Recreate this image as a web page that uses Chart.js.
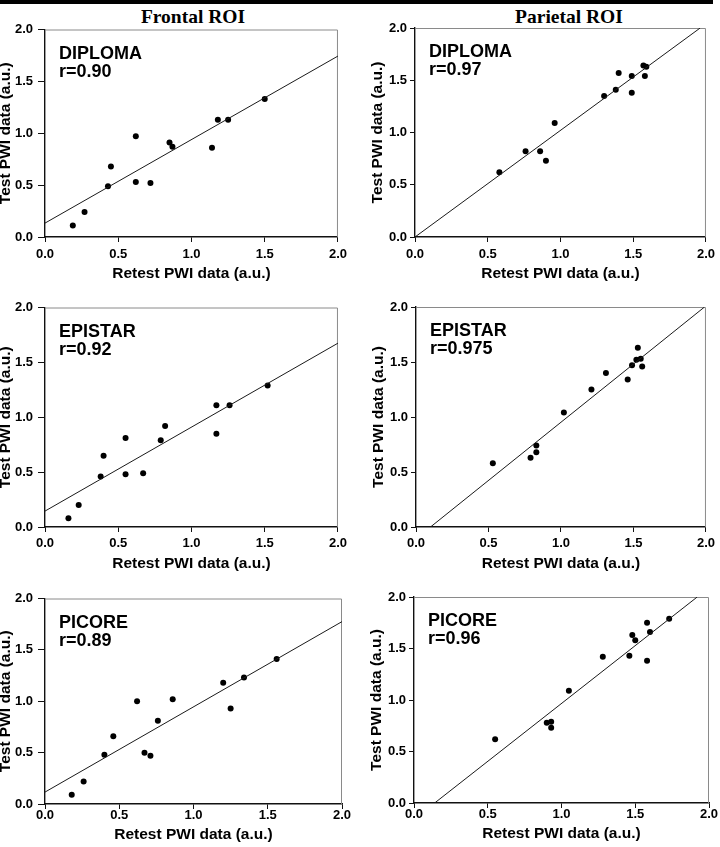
<!DOCTYPE html>
<html>
<head>
<meta charset="utf-8">
<script src="https://cdn.jsdelivr.net/npm/chart.js@4.4.1/dist/chart.umd.min.js"></script>
<style>
  body { margin: 0; background: #fff; }
  #page { position: relative; width: 720px; height: 847px; overflow: hidden; background: #fff; }
  .bar { position: absolute; left: 0; top: 0; width: 713px; height: 4px; background: #000; }
  .head { position: absolute; top: 6px; width: 200px; text-align: center; line-height: 20px;
          font: bold 19.5px "Liberation Serif", "Times New Roman", serif; color: #000; }
  .panel { position: absolute; }
</style>
</head>
<body>
<div id="page">
  <div class="bar"></div>
  <div class="head" style="left:93px">Frontal ROI</div>
  <div class="head" style="left:469px">Parietal ROI</div>
</div>
<script>
// tick values / labels shared by every panel
const tickLabels = ['0.0', '0.5', '1.0', '1.5', '2.0'];
const xTitle = 'Retest PWI data (a.u.)';
const yTitle = 'Test PWI data (a.u.)';

// Frontal ROI
const frontalDiplomaX = [0.19, 0.27, 0.43, 0.45, 0.62, 0.62, 0.72, 0.85, 0.87, 1.14, 1.18, 1.25, 1.50];
const frontalDiplomaY = [0.11, 0.24, 0.49, 0.68, 0.97, 0.53, 0.52, 0.91, 0.87, 0.86, 1.13, 1.13, 1.33];
const frontalDiplomaFit = [[0, 0.134], [2, 1.744]];

const frontalEpistarX = [0.16, 0.23, 0.38, 0.40, 0.55, 0.55, 0.67, 0.79, 0.82, 1.17, 1.17, 1.26, 1.52];
const frontalEpistarY = [0.08, 0.20, 0.46, 0.65, 0.81, 0.48, 0.49, 0.79, 0.92, 1.11, 0.85, 1.11, 1.29];
const frontalEpistarFit = [[0, 0.145], [2, 1.675]];

const frontalPicoreX = [0.18, 0.26, 0.40, 0.46, 0.62, 0.67, 0.71, 0.76, 0.86, 1.20, 1.25, 1.34, 1.56];
const frontalPicoreY = [0.09, 0.22, 0.48, 0.66, 1.00, 0.50, 0.47, 0.81, 1.02, 1.18, 0.93, 1.23, 1.41];
const frontalPicoreFit = [[0, 0.116], [2, 1.775]];

// Parietal ROI
const parietalDiplomaX = [0.58, 0.76, 0.86, 0.90, 0.96, 1.30, 1.38, 1.40, 1.49, 1.49, 1.57, 1.59, 1.58];
const parietalDiplomaY = [0.62, 0.82, 0.82, 0.73, 1.09, 1.35, 1.41, 1.57, 1.54, 1.38, 1.64, 1.63, 1.54];
const parietalDiplomaFit = [[0, 0], [1.96, 2]];

const parietalEpistarX = [0.53, 0.79, 0.83, 0.83, 1.02, 1.21, 1.31, 1.46, 1.49, 1.52, 1.53, 1.55, 1.56];
const parietalEpistarY = [0.58, 0.63, 0.74, 0.68, 1.04, 1.25, 1.40, 1.34, 1.47, 1.52, 1.63, 1.53, 1.46];
const parietalEpistarFit = [[0.10, 0], [1.99, 2]];

const parietalPicoreX = [0.55, 0.90, 0.93, 0.93, 1.05, 1.28, 1.46, 1.48, 1.50, 1.58, 1.58, 1.60, 1.73];
const parietalPicoreY = [0.62, 0.78, 0.79, 0.73, 1.09, 1.42, 1.43, 1.63, 1.58, 1.38, 1.75, 1.66, 1.79];
const parietalPicoreFit = [[0.14, 0], [1.92, 2]];

const panelNames = ['DIPLOMA', 'DIPLOMA', 'EPISTAR', 'EPISTAR', 'PICORE', 'PICORE'];
const panelR = ['r=0.90', 'r=0.97', 'r=0.92', 'r=0.975', 'r=0.89', 'r=0.96'];
const panelX = [frontalDiplomaX, parietalDiplomaX, frontalEpistarX, parietalEpistarX, frontalPicoreX, parietalPicoreX];
const panelY = [frontalDiplomaY, parietalDiplomaY, frontalEpistarY, parietalEpistarY, frontalPicoreY, parietalPicoreY];
const panelFit = [frontalDiplomaFit, parietalDiplomaFit, frontalEpistarFit, parietalEpistarFit, frontalPicoreFit, parietalPicoreFit];

// plot area boxes on the page (left, top, right, bottom)
const boxes = [
  [45, 28, 343, 237], [415, 28, 711, 237],
  [45, 306, 342, 527], [416, 307, 710, 527],
  [45, 597, 342, 804], [414, 597, 709, 803],
];
// per row: x tick padding, x axis height
const rowX = [{ pad: 6, h: 44 }, { pad: 5, h: 44 }, { pad: 0, h: 38 }];
// per column: y axis width, y tick length, y tick padding
const colY = [{ w: 47, tl: 7, pad: 5 }, { w: 45, tl: 5, pad: 3 }];

const FONT = '"Liberation Sans", Arial, sans-serif';
const PAD_TOP = 10, PAD_RIGHT = 10;

// grey top and right frame lines
const frame = {
  id: 'frame',
  beforeDatasetsDraw(chart) {
    const { ctx, chartArea: a } = chart;
    ctx.save();
    ctx.strokeStyle = '#8a8a8a';
    ctx.lineWidth = 1;
    ctx.beginPath();
    ctx.moveTo(a.left, a.top + 0.5);
    ctx.lineTo(a.right - 0.5, a.top + 0.5);
    ctx.lineTo(a.right - 0.5, a.bottom);
    ctx.stroke();
    ctx.restore();
  },
};

// method name and correlation in the upper-left corner
const caption = {
  id: 'caption',
  afterDraw(chart, args, opts) {
    const { ctx, chartArea: a } = chart;
    ctx.save();
    ctx.fillStyle = '#000';
    ctx.font = 'bold 18px ' + FONT;
    ctx.textBaseline = 'alphabetic';
    ctx.fillText(opts.name, a.left + 14, a.top + 29);
    ctx.fillText(opts.r, a.left + 14, a.top + 47);
    ctx.restore();
  },
};

const page = document.getElementById('page');

panelX.forEach((xs, i) => {
  const [L, T, R, B] = boxes[i];
  const rx = rowX[Math.floor(i / 2)];
  const cy = colY[i % 2];

  const wrap = document.createElement('div');
  wrap.className = 'panel';
  const w = cy.w + (R - L) + PAD_RIGHT;
  const h = PAD_TOP + (B - T) + rx.h;
  wrap.style.left = (L - cy.w) + 'px';
  wrap.style.top = (T - PAD_TOP) + 'px';
  wrap.style.width = w + 'px';
  wrap.style.height = h + 'px';
  const canvas = document.createElement('canvas');
  wrap.appendChild(canvas);
  page.appendChild(wrap);

  const points = xs.map((x, k) => ({ x, y: panelY[i][k] }));
  const fit = panelFit[i].map((p) => ({ x: p[0], y: p[1] }));

  const axisCommon = {
    type: 'linear',
    min: 0,
    max: 2,
    border: { color: '#111', width: 1.4 },
    grid: { display: true, drawOnChartArea: false, drawTicks: true, color: '#111', lineWidth: 1 },
  };

  new Chart(canvas, {
    data: {
      datasets: [
        {
          type: 'line',
          data: fit,
          borderColor: '#1a1a1a',
          borderWidth: 1,
          pointRadius: 0,
          fill: false,
        },
        {
          type: 'scatter',
          data: points,
          backgroundColor: '#000',
          borderWidth: 0,
          pointRadius: 3,
        },
      ],
    },
    options: {
      responsive: true,
      maintainAspectRatio: false,
      animation: false,
      events: [],
      layout: { padding: { top: PAD_TOP, right: PAD_RIGHT, left: 0, bottom: 0 } },
      plugins: {
        legend: { display: false },
        tooltip: { enabled: false },
        caption: { name: panelNames[i], r: panelR[i] },
      },
      scales: {
        x: {
          ...axisCommon,
          position: 'bottom',
          grid: { ...axisCommon.grid, tickLength: 5 },
          ticks: {
            stepSize: 0.5,
            padding: rx.pad,
            color: '#000',
            font: { family: FONT, size: 13, weight: 'bold', lineHeight: 1 },
            callback: (v, idx) => tickLabels[idx],
          },
          title: {
            display: true,
            text: xTitle,
            color: '#000',
            padding: 0,
            font: { family: FONT, size: 15.5, weight: 'bold', lineHeight: 1 },
          },
          afterFit: (scale) => { scale.height = rx.h; },
        },
        y: {
          ...axisCommon,
          position: 'left',
          grid: { ...axisCommon.grid, tickLength: cy.tl },
          ticks: {
            stepSize: 0.5,
            padding: cy.pad,
            color: '#000',
            font: { family: FONT, size: 13, weight: 'bold', lineHeight: 1 },
            callback: (v, idx) => tickLabels[idx],
          },
          title: {
            display: true,
            text: yTitle,
            color: '#000',
            padding: 0,
            font: { family: FONT, size: 15.5, weight: 'bold', lineHeight: 1 },
          },
          afterFit: (scale) => { scale.width = cy.w; },
        },
      },
    },
    plugins: [frame, caption],
  });
});
</script>
</body>
</html>
